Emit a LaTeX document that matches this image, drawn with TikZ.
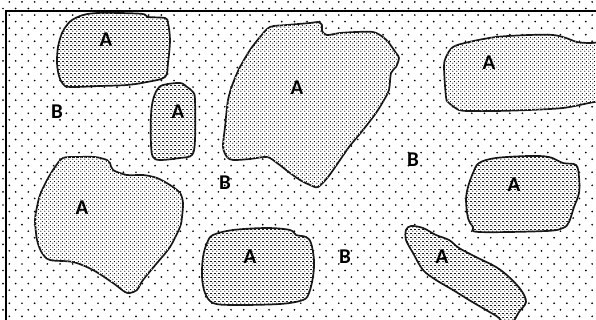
\documentclass[tikz,border=0pt]{standalone}
\usepackage{fontspec}
\setmainfont{Carlito}
\usetikzlibrary{patterns.meta}
\tikzdeclarepattern{
  name=densedots,
  type=colored,
  bottom left={(0pt,0pt)},
  top right={(4pt,4pt)},
  tile size={(4pt,4pt)},
  code={\fill[black] (1pt,1pt) circle (0.72pt); \fill[black] (3pt,3pt) circle (0.72pt);}
}
\tikzset{
  blob/.style={draw=black!90, line width=1.7pt, fill=white, postaction={pattern=densedots}},
  lbl/.style={font=\bfseries\fontsize{21}{21}\selectfont, inner sep=0pt, text=black},
  frame/.style={line width=2.6pt, black}
}
\begin{document}
\begin{tikzpicture}[x=1pt,y=-1pt]
\useasboundingbox (0,0) rectangle (596,320);
\clip (0,0) rectangle (596,320);
% background dots
\foreach \j in {0,...,49}{
  \pgfmathsetmacro\yy{1.95+6.55*\j}
  \pgfmathsetmacro\off{ifthenelse(mod(\j,2)==1,3.0,9.33)}
  \foreach \i in {0,...,47}{
    \fill[black] (\off+12.67*\i,\yy) circle (0.95pt);
  }
}
% blobs
\path[blob] plot[smooth cycle, tension=0.55] coordinates {(72,20) (83,15) (97,13) (120,13) (143,14) (148,17) (165,18) (168,23) (170,40) (168,63) (165,77) (147,82) (127,85) (100,86) (70,87) (63,84) (59,76) (57,63) (58,47) (62,33) (67,25)};
\path[blob] plot[smooth cycle, tension=0.55] coordinates {(163,85) (180,83) (187,87) (193,92) (195,100) (195,140) (192,155) (180,158) (160,160) (153,157) (151,145) (151,115) (153,100) (157,90)};
\path[blob] plot[smooth cycle, tension=0.5] coordinates {(270,27) (287,25) (310,23) (318,22) (322,25) (322,31) (327,35) (340,33) (356,32) (373,32) (383,37) (389,43) (396,53) (399,58) (396,67) (391,73) (389,90) (384,100) (376,113) (363,130) (349,147) (340,160) (328,177) (318,187) (310,185) (300,180) (290,173) (277,163) (267,157) (250,159) (233,160) (227,157) (223,147) (225,127) (228,100) (233,83) (240,67) (250,50) (260,37)};
\path[blob] plot[smooth cycle, tension=0.5] coordinates {(444,67) (446,57) (453,47) (469,42) (496,37) (529,35) (553,35) (566,38) (577,42) (590,43) (605,42) (615,44) (615,96) (604,100) (589,103) (563,108) (529,110) (496,111) (470,111) (459,110) (449,103) (446,97)};
\path[blob] plot[smooth cycle, tension=0.5] coordinates {(63,158) (77,157) (95,157) (107,160) (110,163) (113,170) (127,175) (143,175) (157,178) (170,185) (180,193) (183,203) (182,217) (180,227) (170,247) (157,263) (143,280) (137,290) (130,293) (125,292) (113,283) (93,270) (73,262) (50,260) (42,253) (37,240) (35,220) (37,207) (40,195) (47,180) (55,167)};
\path[blob] plot[smooth cycle, tension=0.55] coordinates {(213,235) (233,230) (267,228) (290,230) (296,235) (306,237) (311,243) (314,260) (313,277) (309,293) (303,300) (280,304) (233,305) (213,303) (205,293) (202,277) (203,257) (207,243)};
\path[blob] plot[smooth cycle, tension=0.55] coordinates {(479,163) (496,158) (529,156) (549,157) (563,163) (576,165) (579,177) (579,193) (574,207) (569,222) (563,228) (546,231) (479,232) (473,227) (468,218) (466,200) (468,187) (473,173)};
\path[blob] plot[smooth cycle, tension=0.55] coordinates {(406,230) (411,226) (423,228) (436,235) (449,240) (459,248) (476,257) (496,267) (509,277) (521,290) (526,302) (519,312) (513,322) (506,328) (499,318) (486,310) (469,300) (453,290) (436,280) (423,270) (413,253) (406,240)};
% frame
\draw[frame] (5,11) -- (600,11);
\draw[frame] (6,10) -- (6,330);
% labels
\node[lbl] (a1) at (106,40) {A};
\node[lbl] (a2) at (178,112) {A};
\node[lbl] (a3) at (297,88) {A};
\node[lbl] (a4) at (489,63) {A};
\node[lbl] (a5) at (82,208) {A};
\node[lbl] (a6) at (250,257) {A};
\node[lbl] (a7) at (514,185) {A};
\node[lbl] (a8) at (442,257) {A};
\node[lbl] (b1) at (57,112) {B};
\node[lbl] (b2) at (225,183) {B};
\node[lbl] (b3) at (413,160) {B};
\node[lbl] (b4) at (345,257) {B};
\end{tikzpicture}
\end{document}
